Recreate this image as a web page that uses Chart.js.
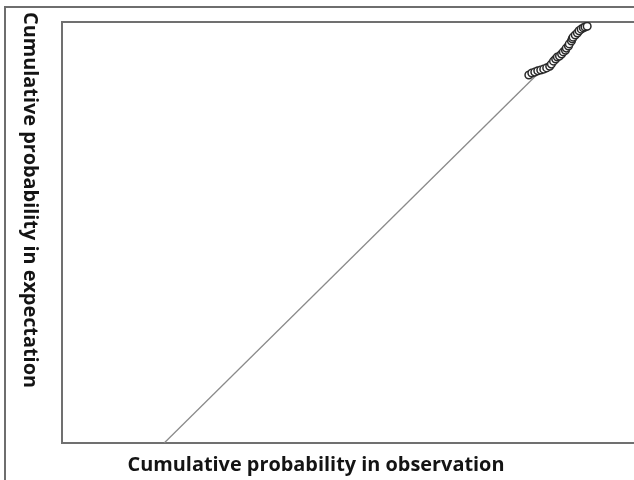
<!DOCTYPE html>
<html>
<head>
<meta charset="utf-8">
<script src="https://cdn.jsdelivr.net/npm/chart.js@4/dist/chart.umd.min.js"></script>
<style>
  html, body { margin: 0; padding: 0; background: #ffffff; }
  #wrap { width: 634px; height: 480px; position: relative; overflow: hidden; }
</style>
</head>
<body>
<div id="wrap"><canvas id="c" width="634" height="480"></canvas></div>
<script>
// ---- Data ----
const xTitle = "Cumulative probability in observation";
const yTitle = "Cumulative probability in expectation";

// observed cumulative probability (x) vs expected cumulative probability (y)
const obsX = [0.856, 0.863, 0.870, 0.877, 0.884, 0.891, 0.898, 0.905, 0.909, 0.914,
              0.919, 0.923, 0.928, 0.933, 0.937, 0.942, 0.944, 0.949, 0.951, 0.956,
              0.958, 0.960, 0.965, 0.970, 0.974, 0.979, 0.984, 0.988, 0.993];
const expY = [0.874, 0.879, 0.881, 0.884, 0.886, 0.888, 0.891, 0.895, 0.900, 0.907,
              0.912, 0.917, 0.919, 0.924, 0.929, 0.933, 0.938, 0.943, 0.948, 0.955,
              0.960, 0.964, 0.969, 0.974, 0.979, 0.983, 0.986, 0.988, 0.990];

// reference line y = x
const refX = [0, 0.99];
const refY = [0, 0.99];

// axis ranges
const xRange = [-0.24, 1.09];
const yRange = [0, 1];

// ---- Build chart ----
const pts = obsX.map((x, i) => ({ x: x, y: expY[i] }));
const ref = refX.map((x, i) => ({ x: x, y: refY[i] }));

const framePlugin = {
  id: 'frame',
  beforeDatasetsDraw(chart) {
    const ctx = chart.ctx;
    const a = chart.chartArea;
    ctx.save();
    // outer frame (left and top)
    ctx.strokeStyle = '#6e6e6e';
    ctx.lineWidth = 2;
    ctx.beginPath();
    ctx.moveTo(5, 480);
    ctx.lineTo(5, 7);
    ctx.lineTo(634, 7);
    ctx.stroke();
    // plot box (top, left, bottom; right edge lies outside the picture)
    ctx.strokeStyle = '#707070';
    ctx.lineWidth = 2;
    ctx.beginPath();
    ctx.moveTo(a.right + 10, a.top);
    ctx.lineTo(a.left, a.top);
    ctx.lineTo(a.left, a.bottom);
    ctx.lineTo(a.right + 10, a.bottom);
    ctx.stroke();
    ctx.restore();
  },
  afterDraw(chart) {
    const ctx = chart.ctx;
    ctx.save();
    ctx.fillStyle = '#141414';
    ctx.font = 'bold 20px "Open Sans"';
    ctx.textAlign = 'center';
    ctx.textBaseline = 'middle';
    // x title
    let w = ctx.measureText(xTitle).width;
    let s = 377 / w;
    ctx.save();
    ctx.translate(316, 465);
    ctx.scale(s, 1);
    ctx.fillText(xTitle, 0, 0);
    ctx.restore();
    // y title, reading top to bottom
    w = ctx.measureText(yTitle).width;
    s = 376 / w;
    ctx.save();
    ctx.translate(30, 200);
    ctx.rotate(Math.PI / 2);
    ctx.scale(s, 1);
    ctx.fillText(yTitle, 0, 0);
    ctx.restore();
    ctx.restore();
  }
};

new Chart(document.getElementById('c'), {
  type: 'scatter',
  data: {
    datasets: [
      {
        label: 'observed',
        data: pts,
        order: 0,
        showLine: false,
        pointRadius: 3.8,
        pointBorderWidth: 1.5,
        pointBorderColor: '#2a2a2a',
        pointBackgroundColor: '#ffffff'
      },
      {
        label: 'reference',
        data: ref,
        order: 1,
        showLine: true,
        pointRadius: 0,
        borderColor: '#8a8a8a',
        borderWidth: 1.3,
        fill: false
      }
    ]
  },
  options: {
    responsive: false,
    animation: false,
    devicePixelRatio: 1,
    layout: { padding: { left: 62, top: 22, right: 0, bottom: 37 } },
    plugins: { legend: { display: false }, tooltip: { enabled: false } },
    scales: {
      x: {
        type: 'linear', min: xRange[0], max: xRange[1],
        ticks: { display: false },
        grid: { display: false, drawTicks: false },
        border: { display: false },
        afterFit(s) { s.height = 0; }
      },
      y: {
        type: 'linear', min: yRange[0], max: yRange[1],
        ticks: { display: false },
        grid: { display: false, drawTicks: false },
        border: { display: false },
        afterFit(s) { s.width = 0; }
      }
    }
  },
  plugins: [framePlugin]
});
</script>
</body>
</html>
